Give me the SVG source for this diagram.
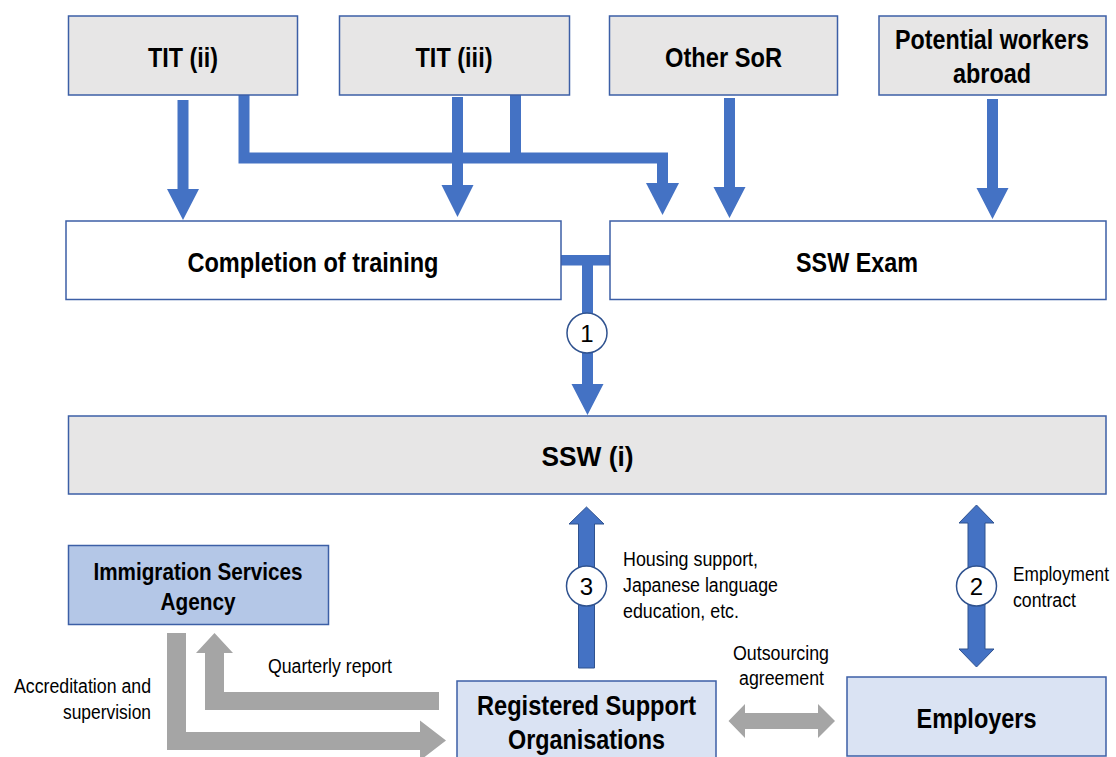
<svg xmlns="http://www.w3.org/2000/svg" width="1116" height="757" viewBox="0 0 1116 757">
<style>
.box{stroke:#3c5fa6;stroke-width:1.5}
.gray{fill:#e7e6e6}
.white{fill:#ffffff}
.isa{fill:#b4c7e7}
.lb{fill:#dae3f3}
.t{font-family:"Liberation Sans",Arial,sans-serif;font-weight:bold;fill:#000;text-anchor:middle}
.l{font-family:"Liberation Sans",Arial,sans-serif;font-size:20px;fill:#000}
.ba{fill:#4472c4}
.bo{fill:#4472c4;stroke:#2f528f;stroke-width:1}
.ga{fill:#a5a5a5}
.ln{fill:none;stroke:#4472c4;stroke-width:11;stroke-linejoin:miter}
.c{fill:#fff;stroke:#2f528f;stroke-width:1.5}
.n{font-family:"Liberation Sans",Arial,sans-serif;font-size:24px;fill:#000;text-anchor:middle}
</style>
<rect width="1116" height="757" fill="#fff"/>
<g id="connectors">
<polygon class="ba" points="177.5,100 188.5,100 188.5,189 199,189 183,220 167,189 177.5,189"/>
<polygon class="ba" points="452,97 463,97 463,185 473.5,185 457.5,217 441.5,185 452,185"/>
<path class="ln" d="M244,95 V158 H662.5 V184"/>
<path class="ln" d="M515.5,95 V158"/>
<polygon class="ba" points="646,183 679,183 662.5,215"/>
<polygon class="ba" points="724,98 735,98 735,187 745.5,187 729.5,218 713.5,187 724,187"/>
<polygon class="ba" points="987,99 998,99 998,188 1008.5,188 992.5,219 976.5,188 987,188"/>
<rect class="ba" x="561" y="255" width="49" height="10.5"/>
<polygon class="ba" points="582,265 593,265 593,384 603.5,384 587.5,415 571.5,384 582,384"/>
<polygon class="bo" points="578.5,668 594.5,668 594.5,524 604,524 586.5,507 569,524 578.5,524"/>
<polygon class="bo" points="968,523 959,523 976.5,505 994,523 985,523 985,649 994,649 976.5,667 959,649 968,649"/>
<polygon class="ga" points="167,633 186,633 186,732 420,732 420,720.5 446,740.5 420,760.5 420,750 167,750"/>
<polygon class="ga" points="439,692 439,710 205,710 205,653 196,653 214.5,633 233,653 224,653 224,692"/>
<polygon class="ga" points="728.5,721 745,704 745,713 818,713 818,704 835,721 818,738 818,729 745,729 745,738"/>
<circle class="c" cx="587" cy="333" r="20"/>
<text class="n" x="587" y="342">1</text>
<circle class="c" cx="586.5" cy="586" r="20"/>
<text class="n" x="586.5" y="595">3</text>
<circle class="c" cx="976.5" cy="586" r="20"/>
<text class="n" x="976.5" y="595">2</text>
<text class="l" x="268" y="673" textLength="124" lengthAdjust="spacingAndGlyphs">Quarterly report</text>
<text class="l" x="14" y="693" textLength="137" lengthAdjust="spacingAndGlyphs">Accreditation and</text>
<text class="l" x="63" y="719" textLength="88" lengthAdjust="spacingAndGlyphs">supervision</text>
<text class="l" x="623" y="566" textLength="135" lengthAdjust="spacingAndGlyphs">Housing support,</text>
<text class="l" x="623" y="592" textLength="155" lengthAdjust="spacingAndGlyphs">Japanese language</text>
<text class="l" x="623" y="618" textLength="116" lengthAdjust="spacingAndGlyphs">education, etc.</text>
<text class="l" x="1013" y="581" textLength="96" lengthAdjust="spacingAndGlyphs">Employment</text>
<text class="l" x="1013" y="607" textLength="63" lengthAdjust="spacingAndGlyphs">contract</text>
<text class="l" x="733" y="660" textLength="96" lengthAdjust="spacingAndGlyphs">Outsourcing</text>
<text class="l" x="739" y="685" textLength="85" lengthAdjust="spacingAndGlyphs">agreement</text>
</g>
<g id="tit2"><rect class="box gray" x="68.5" y="16" width="229" height="79"/><text class="t" x="183" y="67" font-size="28" textLength="70" lengthAdjust="spacingAndGlyphs">TIT (ii)</text></g>
<g id="tit3"><rect class="box gray" x="339.5" y="16" width="230" height="79"/><text class="t" x="454" y="67" font-size="28" textLength="77" lengthAdjust="spacingAndGlyphs">TIT (iii)</text></g>
<g id="othersor"><rect class="box gray" x="609.5" y="16" width="228" height="79"/><text class="t" x="723.5" y="67" font-size="28" textLength="117" lengthAdjust="spacingAndGlyphs">Other SoR</text></g>
<g id="potential"><rect class="box gray" x="879" y="16" width="227" height="79"/><text class="t" x="992" y="49" font-size="27" textLength="194" lengthAdjust="spacingAndGlyphs">Potential workers</text><text class="t" x="992" y="83" font-size="27" textLength="78" lengthAdjust="spacingAndGlyphs">abroad</text></g>
<g id="completion"><rect class="box white" x="66" y="221" width="495" height="78.5"/><text class="t" x="313" y="272" font-size="28" textLength="251" lengthAdjust="spacingAndGlyphs">Completion of training</text></g>
<g id="sswexam"><rect class="box white" x="610" y="221" width="496" height="78.5"/><text class="t" x="857" y="272" font-size="28" textLength="122" lengthAdjust="spacingAndGlyphs">SSW Exam</text></g>
<g id="ssw1"><rect class="box gray" x="68.5" y="416" width="1037.5" height="78"/><text class="t" x="587.5" y="466" font-size="28" textLength="92" lengthAdjust="spacingAndGlyphs">SSW (i)</text></g>
<g id="isa"><rect class="box isa" x="68.5" y="545.5" width="260" height="79"/><text class="t" x="198" y="580" font-size="24" textLength="209" lengthAdjust="spacingAndGlyphs">Immigration Services</text><text class="t" x="198" y="610" font-size="24" textLength="75" lengthAdjust="spacingAndGlyphs">Agency</text></g>
<g id="rso"><rect class="box lb" x="457" y="681" width="259" height="90"/><text class="t" x="586.5" y="715" font-size="27" textLength="219" lengthAdjust="spacingAndGlyphs">Registered Support</text><text class="t" x="586.5" y="749" font-size="27" textLength="157" lengthAdjust="spacingAndGlyphs">Organisations</text></g>
<g id="employers"><rect class="box lb" x="847" y="677" width="259" height="79"/><text class="t" x="976.5" y="728" font-size="28" textLength="120" lengthAdjust="spacingAndGlyphs">Employers</text></g>
</svg>
